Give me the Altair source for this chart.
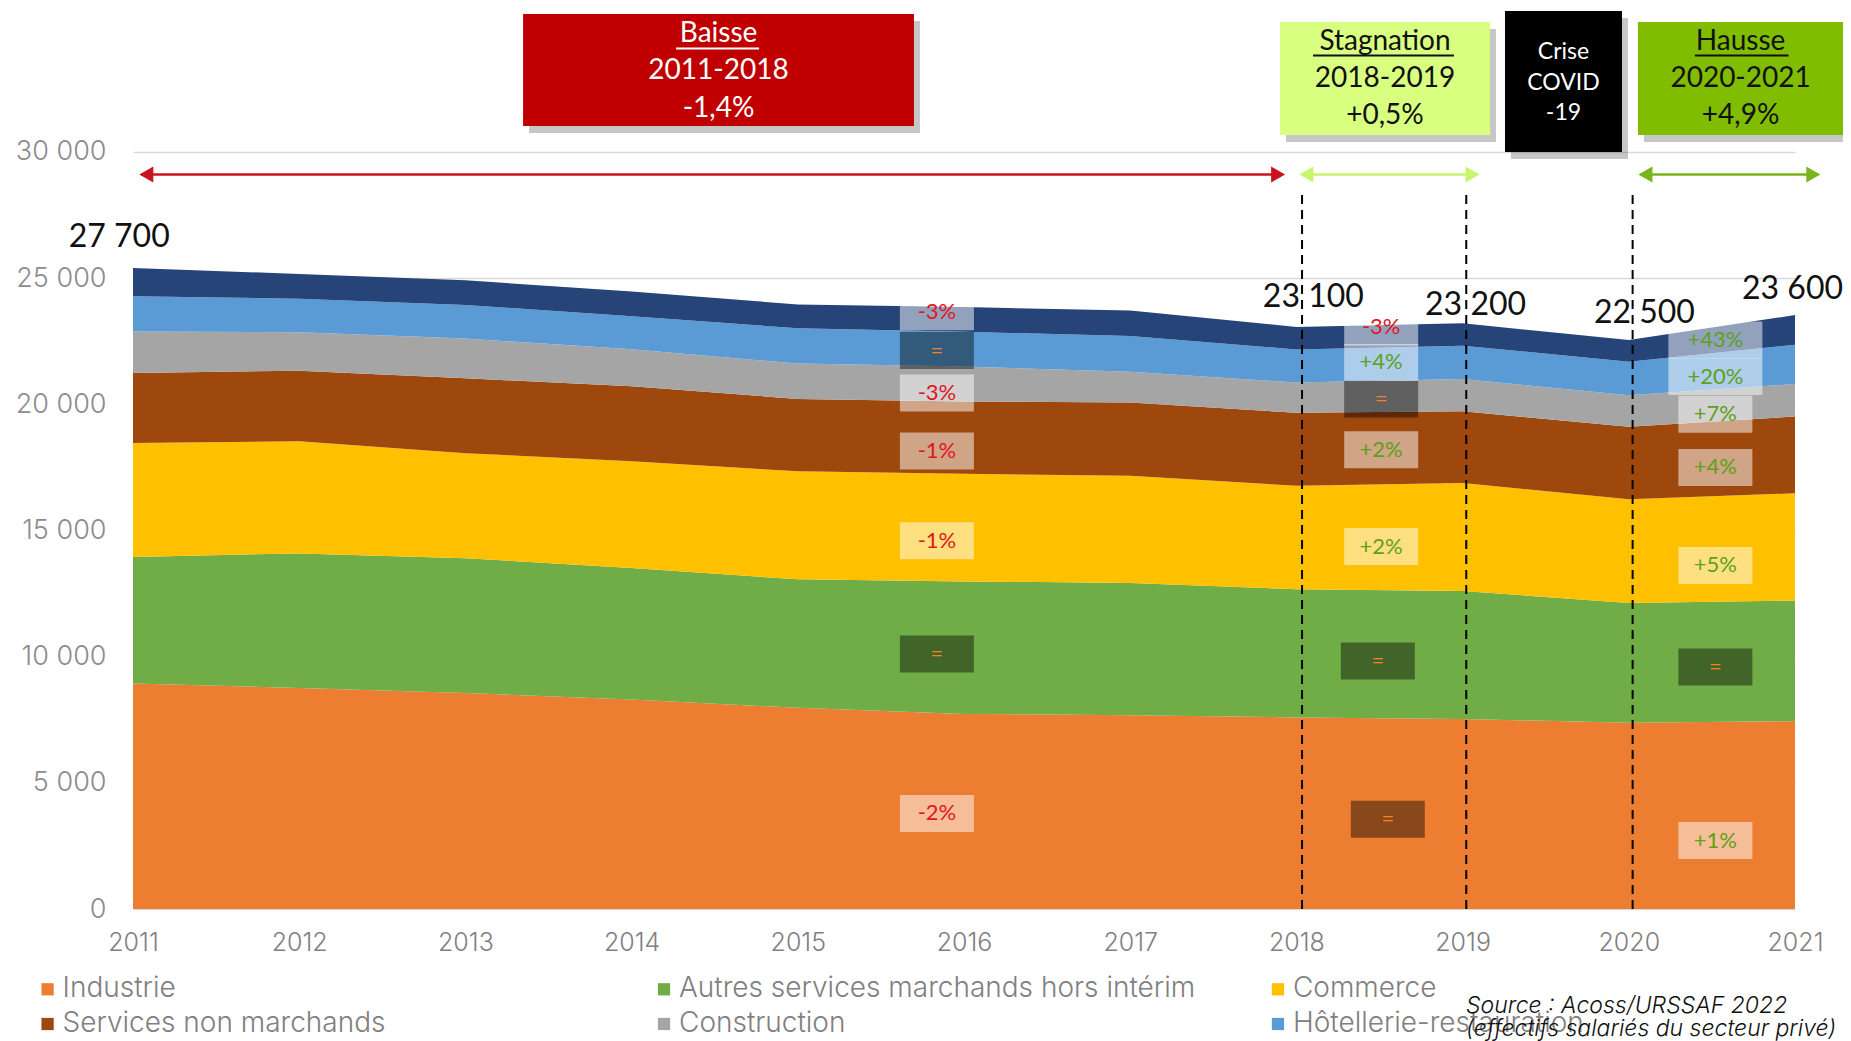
import altair as alt
import pandas as pd

# ---------------- data ----------------
years = list(range(2011, 2022))
series_names = ["Industrie", "Autres services marchands hors intérim", "Commerce",
                "Services non marchands", "Construction", "Hôtellerie-restauration", "Intérim"]
industrie     = [8930, 8760, 8560, 8300, 7970, 7730, 7680, 7590, 7530, 7380, 7440]
autres        = [5020, 5330, 5340, 5210, 5090, 5250, 5240, 5080, 5070, 4740, 4780]
commerce      = [4510, 4440, 4160, 4230, 4280, 4260, 4250, 4100, 4280, 4110, 4250]
non_marchands = [2780, 2800, 2970, 2970, 2870, 2870, 2900, 2890, 2840, 2880, 3040]
construction  = [1640, 1520, 1570, 1470, 1400, 1380, 1220, 1200, 1280, 1250, 1290]
hotellerie    = [1400, 1330, 1330, 1310, 1400, 1380, 1410, 1310, 1320, 1320, 1560]
interim       = [1120, 980, 980, 980, 940, 980, 1010, 890, 890, 860, 1170]
series_values = [industrie, autres, commerce, non_marchands, construction, hotellerie, interim]
series_colors = ["#ED7D31", "#70AD47", "#FFC000", "#9E480E", "#A5A5A5", "#5B9BD5", "#264478"]
legend_names = series_names[:6]

total_labels = ["27 700", "23 100", "23 200", "22 500", "23 600"]

# evolution labels, bottom (Industrie) to top (Intérim)
change_2016 = ["-2%", "=", "-1%", "-1%", "-3%", "=", "-3%"]
change_2018_2019 = ["=", "=", "+2%", "+2%", "=", "+4%", "-3%"]
change_2020_2021 = ["+1%", "=", "+5%", "+4%", "+7%", "+20%", "+43%"]

period_lines = [["Baisse", "2011-2018", "-1,4%"],
                ["Stagnation", "2018-2019", "+0,5%"],
                ["Crise", "COVID", "-19"],
                ["Hausse", "2020-2021", "+4,9%"]]

source_lines = ["Source : Acoss/URSSAF 2022", "(effectifs salariés du secteur privé)"]

# ---------------- layout (data coordinates of annotations) ----------------
W, H = 1662, 896
Y_MAX = 35500
PX_X = W / 10.0          # px per year
PX_Y = H / Y_MAX         # px per unit

total_pos = [(2010.917, 26614), (2018.102, 24228), (2019.078, 23947), (2020.094, 23622), (2020.985, 24557)]
col_x = [2015.837, 2018.51, 2020.521]
col_x_override = {(1, 0): 2018.55, (1, 1): 2018.49}
col_y = [[3788, 10103, 14593, 18147, 20440, 22124, 23666],
         [3554, 9822, 14359, 18194, 20207, 21657, 23060],
         [2714, 9588, 13610, 17493, 19601, 21094, 22545]]
box_fills = ["#C00000", "#D9FF80", "#000000", "#80BC00"]
box_text_col = ["#FFFFFF", "#111111", "#FFFFFF", "#111111"]
box_rect = [(2013.347, 2015.699, 31023, 35461),
            (2017.901, 2019.165, 30666, 35144),
            (2019.255, 2019.959, 29993, 35580),
            (2020.055, 2021.290, 30666, 35144)]
box_text_y = [[34669, 33203, 31697], [34332, 32886, 31431], [33956, 32743, 31527], [34332, 32886, 31431]]
box_font = [28, 28, 23, 28]
underline = [(2014.267, 2014.767, 34097), (2018.100, 2018.948, 33817), None, (2020.398, 2020.961, 33817)]
vline_x = [2018.034, 2019.022, 2020.023]
vline_top = 28290
arrow_y = 29100
arrows = [(2011.05, 2017.92, "#C8141E"), (2018.03, 2019.09, "#C9F56E"), (2020.07, 2021.14, "#78B41E")]
legend_col_x = [2010.486, 2014.195, 2017.889]
legend_row_y = [-3182, -4556]
source_x = 2019.021
source_y = [-3843, -4755]

FONT_AX = "Inter"
FONT_TXT = "Lato"

# ---------------- tables ----------------
df_area = pd.DataFrame([
    {"year": y, "series": s, "value": v, "rank": i}
    for i, s in enumerate(series_names) for y, v in zip(years, series_values[i])
])

pct_rows = []
for c, labels in enumerate([change_2016, change_2018_2019, change_2020_2021]):
    for i, t in enumerate(labels):
        x = col_x_override.get((c, i), col_x[c])
        hw = (47 if len(t) >= 4 else 37) / PX_X
        hh = 18.5 / PX_Y
        y = col_y[c][i]
        if t == "=":
            fill, op, tc = "#000000", 0.42, "#F58220"
        elif t.startswith("+"):
            fill, op, tc = "#FFFFFF", 0.5, "#5EA01A"
        else:
            fill, op, tc = "#FFFFFF", 0.5, "#E0161E"
        pct_rows.append({"x": x, "x0": x - hw, "x1": x + hw, "y": y, "y0": y - hh, "y1": y + hh,
                         "text": t, "fill": fill, "op": op, "tc": tc})
df_pct = pd.DataFrame(pct_rows)

df_vl = pd.DataFrame({"x": vline_x, "y0": [0] * 3, "y1": [vline_top] * 3})

df_arr = pd.DataFrame([{"x0": a, "x1": b, "y": arrow_y, "c": c} for a, b, c in arrows])
heads = []
for a, b, c in arrows:
    heads.append({"x": a + 5 / PX_X, "y": arrow_y, "c": c, "shape": "triangle-left"})
    heads.append({"x": b - 5 / PX_X, "y": arrow_y, "c": c, "shape": "triangle-right"})
df_heads = pd.DataFrame(heads)

df_box = pd.DataFrame([{"x0": r[0], "x1": r[1], "y0": r[2], "y1": r[3], "fill": f,
                        "sx0": r[0] + 6 / PX_X, "sx1": r[1] + 6 / PX_X,
                        "sy0": r[2] - 7 / PX_Y, "sy1": r[3] - 7 / PX_Y}
                       for r, f in zip(box_rect, box_fills)])
bt = []
for k, lines in enumerate(period_lines):
    cx = (box_rect[k][0] + box_rect[k][1]) / 2
    for j, t in enumerate(lines):
        bt.append({"x": cx, "y": box_text_y[k][j], "text": t, "c": box_text_col[k], "fs": box_font[k]})
df_bt = pd.DataFrame(bt)
df_ul = pd.DataFrame([{"x0": u[0], "x1": u[1], "y": u[2], "c": box_text_col[k]}
                      for k, u in enumerate(underline) if u is not None])

df_tot = pd.DataFrame([{"x": p[0], "y": p[1], "text": t} for p, t in zip(total_pos, total_labels)])

leg = []
for i, n in enumerate(legend_names):
    r, c = divmod(i, 3)
    leg.append({"series": n, "x": legend_col_x[c], "lx": legend_col_x[c] + 15 / PX_X, "y": legend_row_y[r]})
df_leg = pd.DataFrame(leg)

df_src = pd.DataFrame({"x": [source_x] * 2, "y": source_y, "text": source_lines})

# ---------------- chart ----------------
xs = alt.Scale(domain=[2011, 2021], nice=False, zero=False)
ys = alt.Scale(domain=[0, Y_MAX], nice=False)

X = alt.X("year:Q", scale=xs, axis=alt.Axis(values=years, format="d", grid=False, ticks=False, domain=False,
                                             labelFont=FONT_AX, labelFontSize=25, labelColor="#808080",
                                             labelPadding=21, labelFlush=False, title=None, labelFontWeight=300))
Y = alt.Y("value:Q", stack="zero", scale=ys,
          axis=alt.Axis(values=[0, 5000, 10000, 15000, 20000, 25000, 30000],
                        labelExpr="replace(format(datum.value, ','), ',', ' ')",
                        grid=True, gridColor="#D9D9D9", gridWidth=1.5, ticks=False, domain=False,
                        labelFont=FONT_AX, labelFontSize=27, labelColor="#8C8C8C", labelPadding=27,
                        title=None, labelFontWeight=300))

cscale = alt.Scale(domain=series_names, range=series_colors)

area = alt.Chart(df_area).mark_area(interpolate="linear").encode(
    x=X, y=Y,
    color=alt.Color("series:N", scale=cscale, legend=None),
    order=alt.Order("rank:Q", sort="ascending"),
)

def qx(f):
    return alt.X(f, type="quantitative", scale=xs)

def qy(f):
    return alt.Y(f, type="quantitative", scale=ys)

pct_box = alt.Chart(df_pct).mark_rect().encode(
    x=qx("x0"), x2="x1", y=qy("y0"), y2="y1",
    fill=alt.Fill("fill:N", scale=None), opacity=alt.Opacity("op:Q", scale=None))
pct_txt = alt.Chart(df_pct).mark_text(font=FONT_TXT, fontSize=22, baseline="middle", align="center").encode(
    x=qx("x"), y=qy("y"), text="text:N", fill=alt.Fill("tc:N", scale=None))

vl = alt.Chart(df_vl).mark_rule(color="#000000", strokeWidth=2, strokeDash=[9, 6]).encode(
    x=qx("x"), y=qy("y0"), y2="y1")

arr = alt.Chart(df_arr).mark_rule(strokeWidth=2.5).encode(
    x=qx("x0"), x2="x1", y=qy("y"), stroke=alt.Stroke("c:N", scale=None))
hd = alt.Chart(df_heads).mark_point(filled=True, size=260, opacity=1).encode(
    x=qx("x"), y=qy("y"), fill=alt.Fill("c:N", scale=None),
    shape=alt.Shape("shape:N", scale=None))

box_sh = alt.Chart(df_box).mark_rect(color="#000000", opacity=0.22).encode(
    x=qx("sx0"), x2="sx1", y=qy("sy0"), y2="sy1")
box = alt.Chart(df_box).mark_rect().encode(
    x=qx("x0"), x2="x1", y=qy("y0"), y2="y1", fill=alt.Fill("fill:N", scale=None))
box_txt = alt.Chart(df_bt).mark_text(font=FONT_TXT, baseline="middle", align="center").encode(
    x=qx("x"), y=qy("y"), text="text:N", fill=alt.Fill("c:N", scale=None),
    size=alt.Size("fs:Q", scale=None))
ul = alt.Chart(df_ul).mark_rule(strokeWidth=2).encode(
    x=qx("x0"), x2="x1", y=qy("y"), stroke=alt.Stroke("c:N", scale=None))

tot = alt.Chart(df_tot).mark_text(font=FONT_TXT, fontSize=32, color="#111111", baseline="middle",
                                  align="center").encode(x=qx("x"), y=qy("y"), text="text:N")

leg_sq = alt.Chart(df_leg).mark_square(size=150, opacity=1).encode(
    x=qx("x"), y=qy("y"), color=alt.Color("series:N", scale=cscale, legend=None))
leg_txt = alt.Chart(df_leg).mark_text(font=FONT_AX, fontSize=28, color="#808080", align="left",
                                      baseline="middle", fontWeight=300).encode(
    x=qx("lx"), y=qy("y"), text="series:N")

src = alt.Chart(df_src).mark_text(font=FONT_AX, fontSize=23, fontStyle="italic", color="#111111",
                                  align="left", baseline="middle", fontWeight=300).encode(
    x=qx("x"), y=qy("y"), text="text:N")

chart = alt.layer(area, pct_box, pct_txt, vl, arr, hd, box_sh, box, box_txt, ul, tot,
                  leg_sq, leg_txt, src).properties(
    width=W, height=H,
    autosize=alt.AutoSizeParams(type="none"),
    padding={"left": 125, "top": 5, "right": 48, "bottom": 132},
    background="#FFFFFF",
).configure_view(stroke=None)

chart.save("out.html", embed_options={"renderer": "svg", "actions": False})
